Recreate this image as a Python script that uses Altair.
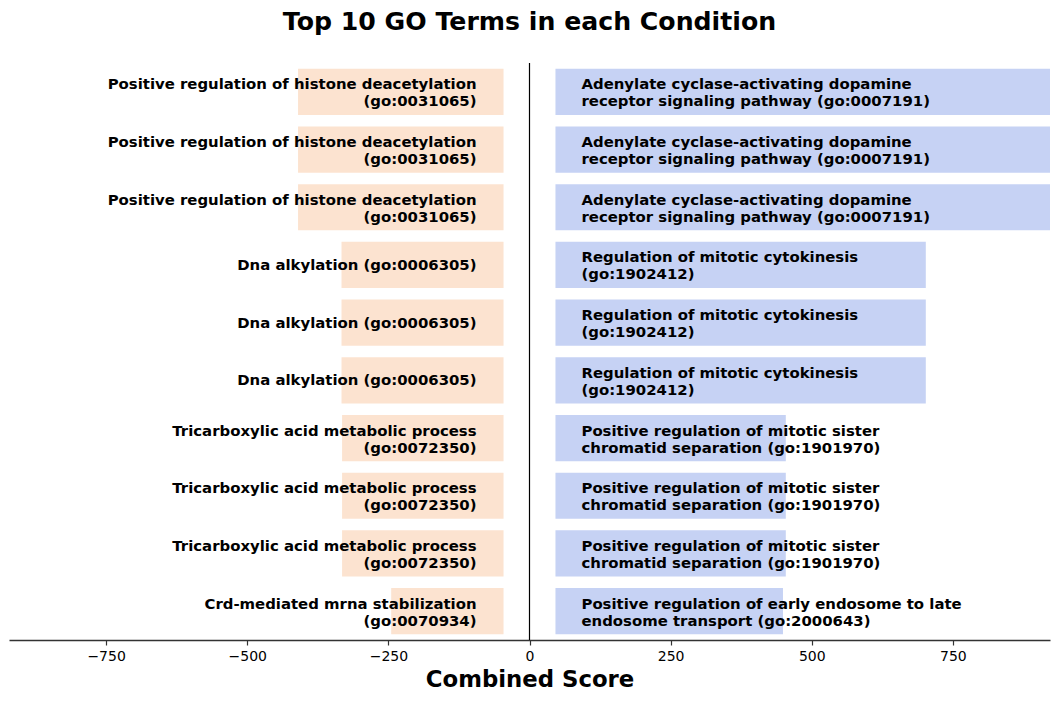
import altair as alt
import pandas as pd

rows = list(range(1, 11))
left_terms = [
    "Positive regulation of histone deacetylation\n(go:0031065)",
    "Positive regulation of histone deacetylation\n(go:0031065)",
    "Positive regulation of histone deacetylation\n(go:0031065)",
    "Dna alkylation (go:0006305)",
    "Dna alkylation (go:0006305)",
    "Dna alkylation (go:0006305)",
    "Tricarboxylic acid metabolic process\n(go:0072350)",
    "Tricarboxylic acid metabolic process\n(go:0072350)",
    "Tricarboxylic acid metabolic process\n(go:0072350)",
    "Crd-mediated mrna stabilization\n(go:0070934)",
]
right_terms = [
    "Adenylate cyclase-activating dopamine\nreceptor signaling pathway (go:0007191)",
    "Adenylate cyclase-activating dopamine\nreceptor signaling pathway (go:0007191)",
    "Adenylate cyclase-activating dopamine\nreceptor signaling pathway (go:0007191)",
    "Regulation of mitotic cytokinesis\n(go:1902412)",
    "Regulation of mitotic cytokinesis\n(go:1902412)",
    "Regulation of mitotic cytokinesis\n(go:1902412)",
    "Positive regulation of mitotic sister\nchromatid separation (go:1901970)",
    "Positive regulation of mitotic sister\nchromatid separation (go:1901970)",
    "Positive regulation of mitotic sister\nchromatid separation (go:1901970)",
    "Positive regulation of early endosome to late\nendosome transport (go:2000643)",
]
left_scores = [364, 364, 364, 287, 287, 287, 286, 286, 286, 199]
right_scores = [876, 876, 876, 656, 656, 656, 408, 408, 408, 403]
tick_values = [-750, -500, -250, 0, 250, 500, 750]
offset = 46

left = pd.DataFrame({"row": rows, "term": left_terms, "score": left_scores})
right = pd.DataFrame({"row": rows, "term": right_terms, "score": right_scores})
left["start"] = -offset
left["end"] = -offset - left["score"]
right["start"] = offset
right["end"] = offset + right["score"]

FONT = "DejaVu Sans"
xscale = alt.Scale(domain=[-922, 922], nice=False, zero=False)
yenc = alt.Y("row:O", axis=None, scale=alt.Scale(paddingInner=0.2, paddingOuter=0.1))
xaxis = alt.Axis(title="Combined Score", values=tick_values)

def bars(df, color):
    return alt.Chart(df).mark_bar(color=color).encode(
        x=alt.X("start:Q", scale=xscale, axis=xaxis),
        x2="end:Q",
        y=yenc,
    )

def labels(df, align, dx, multi):
    cond = "indexof(datum.term, '\\n') >= 0" if multi else "indexof(datum.term, '\\n') < 0"
    return alt.Chart(df).transform_filter(cond).mark_text(
        align=align, baseline="middle", dx=dx, dy=(-6.5 if multi else 1), font=FONT,
        fontSize=14.9, fontWeight="bold", color="black", lineBreak="\n", lineHeight=17,
    ).encode(x=alt.X("start:Q", scale=xscale, axis=xaxis), y=yenc, text="term:N")

zero = alt.Chart(pd.DataFrame({"z": [0]})).mark_rule(color="black", strokeWidth=1.2).encode(
    x=alt.X("z:Q", scale=xscale, axis=xaxis)
)

chart = alt.layer(
    bars(left, "#fce3d0"), bars(right, "#c6d2f4"), zero,
    labels(left, "right", -27, True), labels(left, "right", -27, False),
    labels(right, "left", 26, True), labels(right, "left", 26, False),
).properties(
    width=1041, height=577,
    title=alt.TitleParams("Top 10 GO Terms in each Condition", font=FONT, fontSize=25.2,
                          fontWeight="bold", color="black", anchor="middle", offset=27),
    autosize=alt.AutoSizeParams(type="none"),
    padding={"left": 1, "top": 55, "right": 1, "bottom": 60},
).configure_view(stroke=None).configure_axis(
    grid=False, domainColor="#333333", domainWidth=1.5,
    tickColor="#333333", tickSize=5, tickWidth=1.2, labelFont=FONT, labelFontSize=14,
    labelColor="black", titleFont=FONT, titleFontSize=22.8,
    titleFontWeight="bold", titleColor="black", titlePadding=5, labelPadding=4,
)

chart.save("out.html", embed_options={"renderer": "svg", "actions": False})
